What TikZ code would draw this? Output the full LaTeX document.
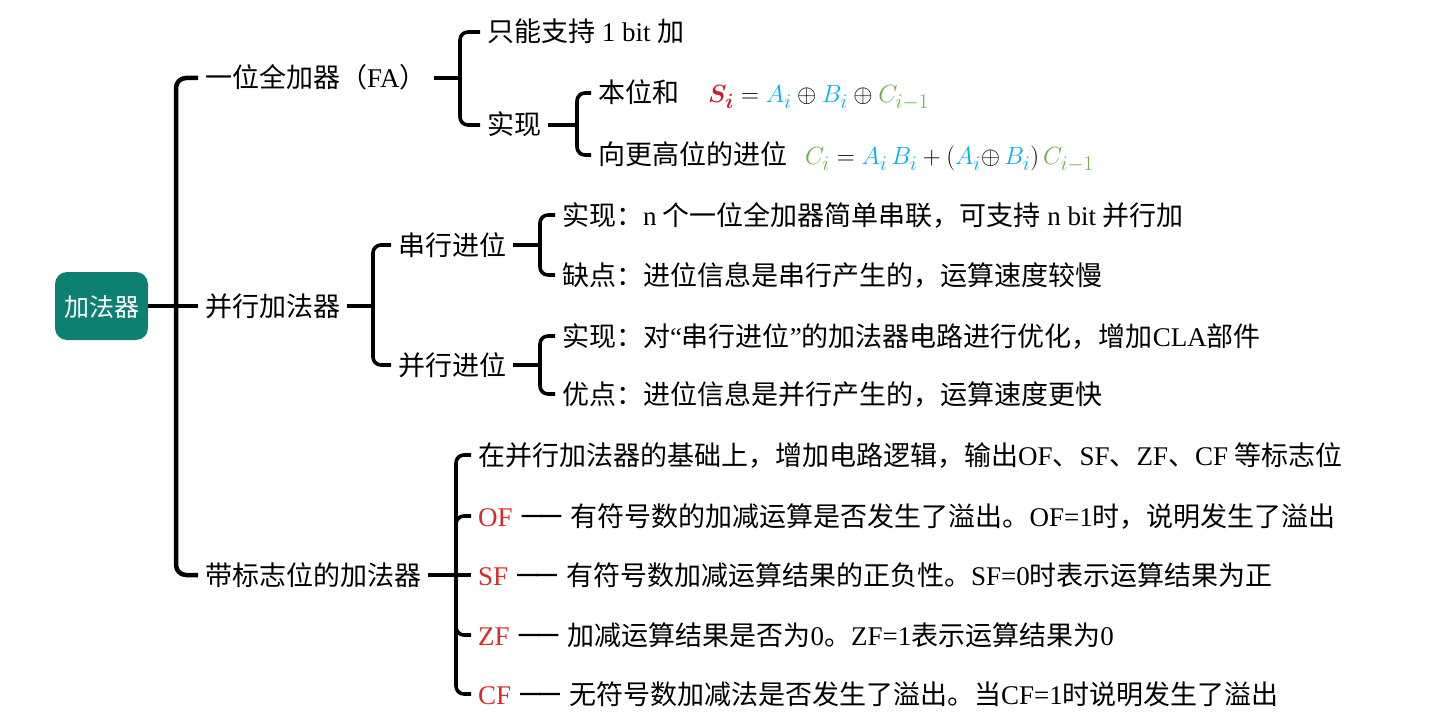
\documentclass[tikz,border=0pt]{standalone}
\usepackage{fontspec}
\usepackage{bm}
\setmainfont{Noto Sans CJK SC}
\newfontfamily\latfont{Liberation Serif}
\newfontfamily\dashfont{Liberation Serif}[FakeBold=7]
\newcommand\lat[1]{{\latfont #1}}
\newcommand\flagdash{\raisebox{5.5pt}{\dashfont\fontsize{19}{19}\selectfont ——}}
\newcommand\flagtag[1]{\textcolor{flagred}{\lat{#1}}\hspace{10pt}\flagdash\hspace{10pt}}
\definecolor{rootgreen}{RGB}{14,128,114}
\definecolor{sred}{RGB}{200,30,40}
\definecolor{ablue}{RGB}{0,176,240}
\definecolor{cgreen}{RGB}{112,173,71}
\definecolor{flagred}{RGB}{220,40,40}
\begin{document}
\begin{tikzpicture}[x=1pt,y=-1pt,
  every node/.style={font=\fontsize{27}{32}\selectfont, text height=24pt, text depth=4pt,
    inner sep=0pt, outer xsep=7pt, outer ysep=0pt},
  item/.style={anchor=west},
  formula/.style={anchor=west, outer sep=0pt, font=\fontsize{29}{32}\selectfont},
  root/.style={fill=rootgreen, rounded corners=12pt, minimum width=93pt, minimum height=68pt,
    text=white, outer sep=0pt, font=\fontsize{25}{30}\selectfont},
  link/.style={line width=3.6pt, rounded corners=8pt},
  mainlink/.style={line width=4.5pt, rounded corners=10pt},
]
\useasboundingbox (0,0) rectangle (1434,722);

% root
\node[root] (root) at (101.5,306) {加法器};

% first level
\node[item] (fa)   at (198,78)  {一位全加器（\lat{FA}）};
\node[item] (par)  at (198,306) {并行加法器};
\node[item] (flag) at (198,575) {带标志位的加法器};

\coordinate (mb) at (176,306);
\draw[mainlink] (root.east) -- (mb);
\draw[mainlink] (mb) |- (fa.west);
\draw[mainlink] (mb) -- (par.west);
\draw[mainlink] (mb) |- (flag.west);

% full adder
\node[item] (one)  at (480,32)  {只能支持\lat{ 1 bit }加};
\node[item] (impl) at (480,125) {实现};
\coordinate (fab) at (460,78);
\draw[link] (fa.east) -- (fab);
\draw[link] (fab) |- (one.west);
\draw[link] (fab) |- (impl.west);

\node[item] (sum)   at (591,93)  {本位和};
\node[item] (carry) at (591,155) {向更高位的进位};
\node[formula] (sumf) at (708,93)
  {$\textcolor{sred}{\bm{S_i}} = \textcolor{ablue}{A_i} \oplus \textcolor{ablue}{B_i} \oplus \textcolor{cgreen}{C_{i-1}}$};
\node[formula] (carryf) at (805,155)
  {$\textcolor{cgreen}{C_i} = \textcolor{ablue}{A_i\,B_i} + (\textcolor{ablue}{A_i}{\oplus}\,\textcolor{ablue}{B_i})\,\textcolor{cgreen}{C_{i-1}}$};
\coordinate (implb) at (577,125);
\draw[link] (impl.east) -- (implb);
\draw[link] (implb) |- (sum.west);
\draw[link] (implb) |- (carry.west);

% parallel adder
\node[item] (ser) at (391,245) {串行进位};
\node[item] (pp)  at (391,365) {并行进位};
\coordinate (parb) at (373,306);
\draw[link] (par.east) -- (parb);
\draw[link] (parb) |- (ser.west);
\draw[link] (parb) |- (pp.west);

\node[item] (serimpl) at (555,215) {实现：\lat{n} 个一位全加器简单串联，可支持\lat{ n bit }并行加};
\node[item] (sercon)  at (555,275) {缺点：进位信息是串行产生的，运算速度较慢};
\coordinate (serb) at (540,245);
\draw[link] (ser.east) -- (serb);
\draw[link] (serb) |- (serimpl.west);
\draw[link] (serb) |- (sercon.west);

\node[item] (ppimpl) at (555,336) {实现：对\lat{“}串行进位\lat{”}的加法器电路进行优化，增加\lat{CLA}部件};
\node[item] (pppro)  at (555,394) {优点：进位信息是并行产生的，运算速度更快};
\coordinate (ppb) at (540,365);
\draw[link] (pp.east) -- (ppb);
\draw[link] (ppb) |- (ppimpl.west);
\draw[link] (ppb) |- (pppro.west);

% adder with flags
\node[item] (base) at (471,455) {在并行加法器的基础上，增加电路逻辑，输出\lat{OF}、\lat{SF}、\lat{ZF}、\lat{CF} 等标志位};
\node[item] (of) at (471,516) {\flagtag{OF}有符号数的加减运算是否发生了溢出。\lat{OF=1}时，说明发生了溢出};
\node[item] (sf) at (471,575) {\flagtag{SF}有符号数加减运算结果的正负性。\lat{SF=0}时表示运算结果为正};
\node[item] (zf) at (471,635) {\flagtag{ZF}加减运算结果是否为\lat{0}。\lat{ZF=1}表示运算结果为\lat{0}};
\node[item] (cf) at (471,694) {\flagtag{CF}无符号数加减法是否发生了溢出。当\lat{CF=1}时说明发生了溢出};
\coordinate (flagb) at (456,575);
\draw[link] (flag.east) -- (flagb);
\draw[link] (flagb) |- (base.west);
\draw[link] (flagb) |- (of.west);
\draw[link] (flagb) -- (sf.west);
\draw[link] (flagb) |- (zf.west);
\draw[link] (flagb) |- (cf.west);
\end{tikzpicture}
\end{document}
